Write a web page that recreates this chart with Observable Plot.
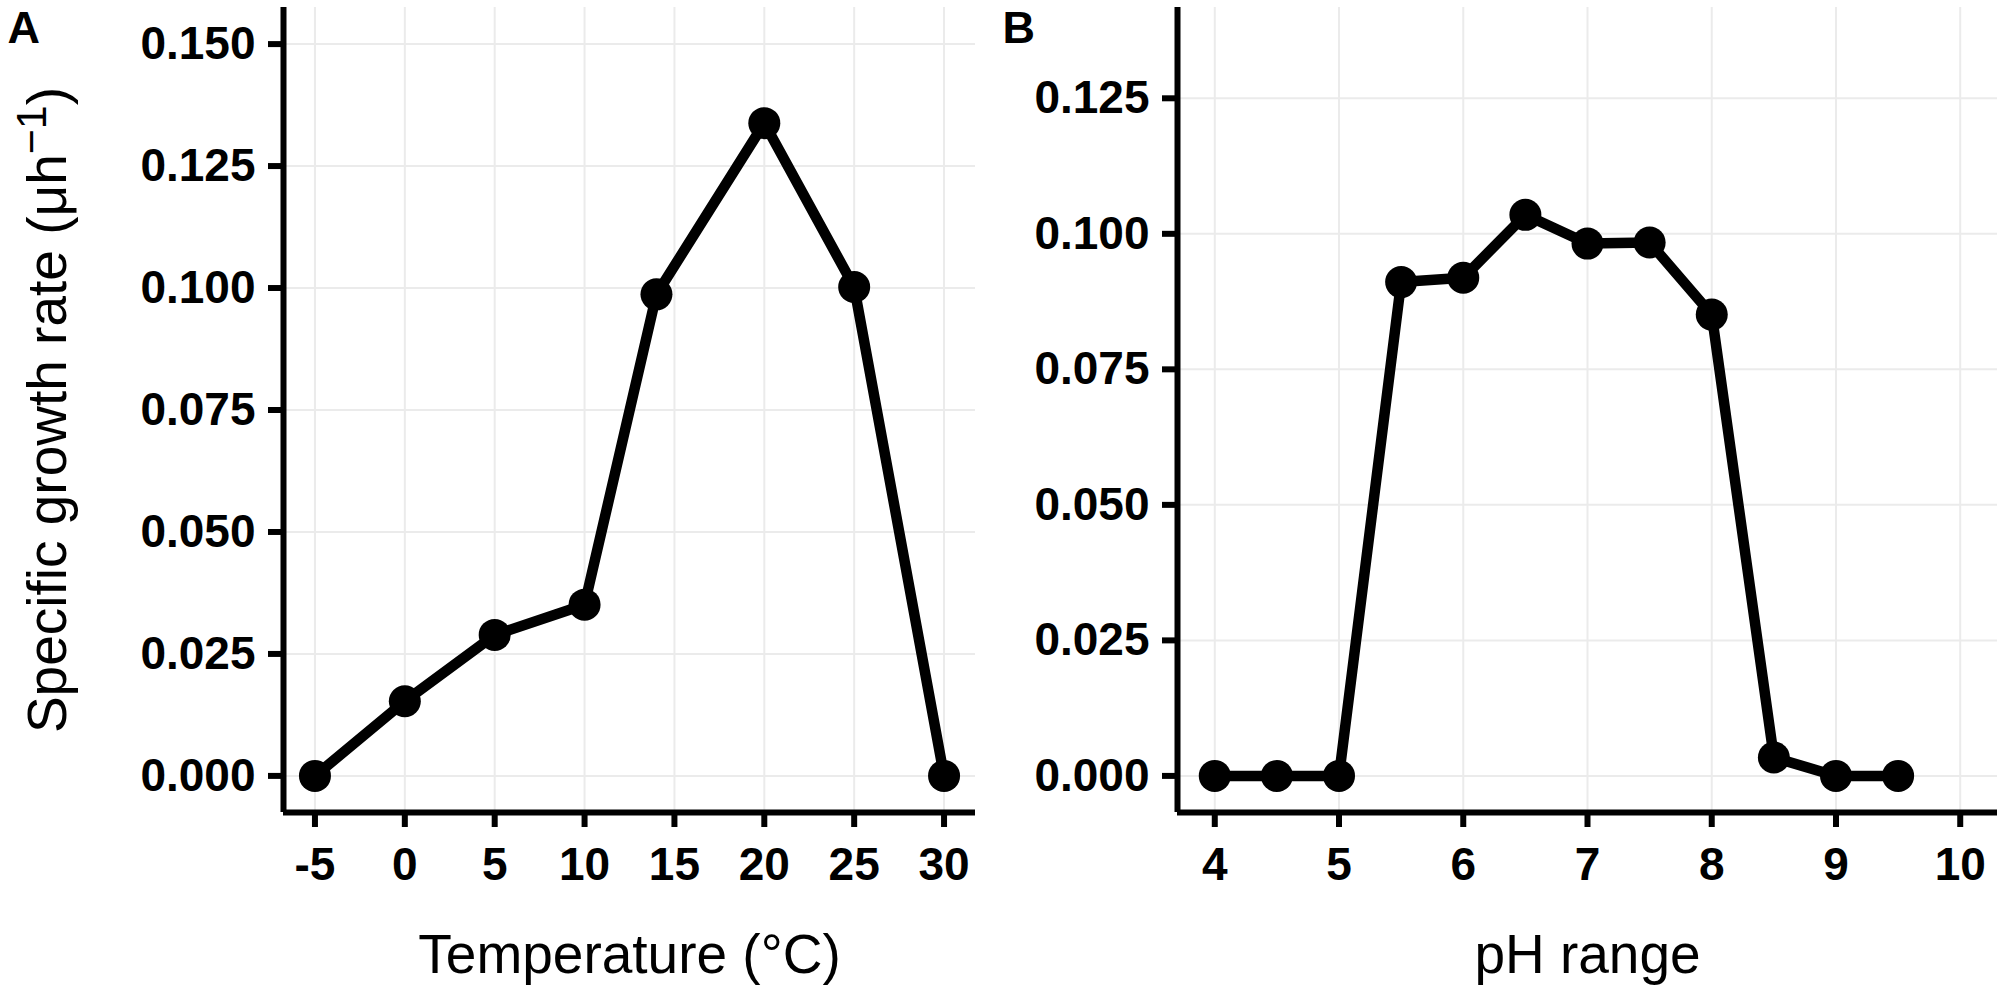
<!DOCTYPE html>
<html><head><meta charset="utf-8">
<script src="https://cdn.jsdelivr.net/npm/d3@7"></script>
<script src="https://cdn.jsdelivr.net/npm/@observablehq/plot@0.6"></script>
<style>
html,body{margin:0;padding:0;background:#fff;}
#wrap{position:relative;width:2005px;height:993px;overflow:hidden;background:#fff;}
#wrap svg{position:absolute;top:0;max-width:none;}
</style></head><body><div id="wrap"></div>
<script>
// Panel A: temperature
const tempX = [-5, 0, 5, 10, 14, 20, 25, 30];
const tempRate = [0, 0.0153, 0.0289, 0.0351, 0.0987, 0.1338, 0.1002, 0];
// Panel B: pH
const phX = [4, 4.5, 5, 5.5, 6, 6.5, 7, 7.5, 8, 8.5, 9, 9.5];
const phRate = [0, 0, 0, 0.0911, 0.0919, 0.1035, 0.0982, 0.0984, 0.0851, 0.0034, 0, 0];

const tempXTicks = [-5, 0, 5, 10, 15, 20, 25, 30];
const tempYTicks = [0, 0.025, 0.05, 0.075, 0.1, 0.125, 0.15];
const phXTicks = [4, 5, 6, 7, 8, 9, 10];
const phYTicks = [0, 0.025, 0.05, 0.075, 0.1, 0.125];

const tempXDomain = [-6.75, 31.75];
const tempYDomain = [-0.0075, 0.1575];
const phXDomain = [3.7, 10.3];
const phYDomain = [-0.00675, 0.14175];

const xTitleA = "Temperature (°C)";
const xTitleB = "pH range";
const yTitleParts = ["Specific growth rate (μh", "−1", ")"];
const panelLetters = ["A", "B"];

const FONT = "'Liberation Sans', Arial, Helvetica, sans-serif";

function panel(opts) {
  const data = opts.xs.map((x, i) => ({x, y: opts.ys[i]}));
  const marks = [
    Plot.gridX(opts.xTicks, {stroke: "#ebebeb", strokeOpacity: 1, strokeWidth: 2}),
    Plot.gridY(opts.yTicks, {stroke: "#ebebeb", strokeOpacity: 1, strokeWidth: 2}),
    Plot.line(data, {x: "x", y: "y", stroke: "black", strokeWidth: 10.5, strokeLinejoin: "round"}),
    Plot.dot(data, {x: "x", y: "y", r: 16, fill: "black", stroke: null}),
    Plot.ruleX([opts.xDomain[0]], {stroke: "black", strokeWidth: 6}),
    Plot.ruleY([opts.yDomain[0]], {stroke: "black", strokeWidth: 6}),
    Plot.axisX(opts.xTicks, {tickSize: 15, tickPadding: 20, strokeWidth: 6, fontSize: 46, fontWeight: "bold", label: null, tickFormat: d => String(d)}),
    Plot.axisY(opts.yTicks, {tickSize: 15, tickPadding: 13, strokeWidth: 6, fontSize: 46, fontWeight: "bold", label: null, tickFormat: d3.format(".3f")}),
    Plot.text([opts.xTitle], {text: d => d, frameAnchor: "bottom", dy: 143, fontSize: 55, fill: "black", textAnchor: "middle", lineAnchor: "middle"}),
    Plot.text([opts.letter], {text: d => d, frameAnchor: "top-left", dx: opts.letterDx, dy: 21, fontSize: 45, fontWeight: "bold", textAnchor: "start", lineAnchor: "middle", fill: "black"})
  ];
  if (opts.yTitle) {
    marks.push(Plot.text([opts.yTitle], {text: d => d, frameAnchor: "left", dx: -235, rotate: -90, fontSize: 55, fill: "black", textAnchor: "middle", lineAnchor: "middle"}));
  }
  return Plot.plot({
    width: opts.width,
    height: 993,
    marginLeft: opts.marginLeft,
    marginRight: opts.marginRight,
    marginTop: 7,
    marginBottom: 181,
    x: {domain: opts.xDomain},
    y: {domain: opts.yDomain},
    style: {fontFamily: FONT, color: "black", background: "white", overflow: "visible"},
    marks
  });
}

const fullY = yTitleParts.join("");
const a = panel({xs: tempX, ys: tempRate, xTicks: tempXTicks, yTicks: tempYTicks, xDomain: tempXDomain, yDomain: tempYDomain,
  width: 1000, marginLeft: 283, marginRight: 25, xTitle: xTitleA, letter: panelLetters[0], letterDx: -276, yTitle: fullY});
const b = panel({xs: phX, ys: phRate, xTicks: phXTicks, yTicks: phYTicks, xDomain: phXDomain, yDomain: phYDomain,
  width: 1005, marginLeft: 177, marginRight: 8, xTitle: xTitleB, letter: panelLetters[1], letterDx: -175});
a.style.left = "0px";
b.style.left = "1000px";
const wrap = document.getElementById("wrap");
wrap.appendChild(a);
wrap.appendChild(b);

// superscript in y title
d3.select(a).selectAll("text").filter(function() { return this.textContent === fullY; }).each(function() {
  const t = d3.select(this);
  t.text(null);
  t.append("tspan").text(yTitleParts[0]);
  t.append("tspan").attr("dy", "-20").attr("font-size", "43").text(yTitleParts[1]);
  t.append("tspan").attr("dy", "20").text(yTitleParts[2]);
});
</script>
</body></html>
